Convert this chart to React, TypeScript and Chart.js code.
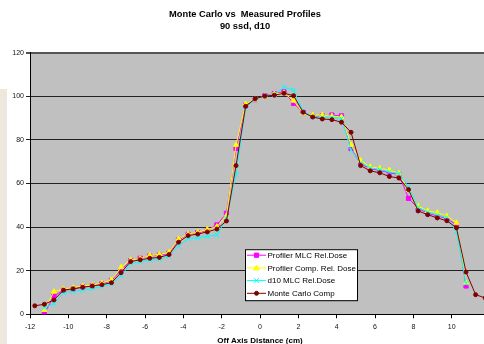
import React, { useEffect, useRef } from 'react';
import { Chart, registerables } from 'chart.js';

Chart.register(...registerables);

const chartTitle = ['Monte Carlo vs  Measured Profiles', '90 ssd, d10'];
const xAxisTitle = 'Off Axis Distance (cm)';
const seriesLabels = ['Profiler MLC Rel.Dose', 'Profiler Comp. Rel. Dose', 'd10 MLC Rel.Dose', 'Monte Carlo Comp'];

const mcPositions = [-11.75, -11.25, -10.75, -10.25, -9.75, -9.25, -8.75, -8.25, -7.75, -7.25, -6.75, -6.25, -5.75, -5.25, -4.75, -4.25, -3.75, -3.25, -2.75, -2.25, -1.75, -1.25, -0.75, -0.25, 0.25, 0.75, 1.25, 1.75, 2.25, 2.75, 3.25, 3.75, 4.25, 4.75, 5.25, 5.75, 6.25, 6.75, 7.25, 7.75, 8.25, 8.75, 9.25, 9.75, 10.25, 10.75, 11.25, 11.75];
const mcDose = [3.9, 4.6, 6.6, 11.1, 11.7, 12.4, 13.0, 13.6, 14.5, 19.1, 24.2, 25.0, 25.7, 26.1, 27.4, 33.1, 36.1, 36.8, 37.8, 39.1, 42.8, 68.2, 95.4, 98.9, 100.1, 100.5, 101.4, 100.3, 92.7, 90.5, 89.6, 89.3, 88.1, 83.5, 68.2, 65.8, 64.9, 63.2, 62.5, 57.2, 47.4, 45.7, 44.2, 42.9, 39.7, 19.4, 9.0, 7.5];

const measuredPositions = [-11.25, -10.75, -10.25, -9.75, -9.25, -8.75, -8.25, -7.75, -7.25, -6.75, -6.25, -5.75, -5.25, -4.75, -4.25, -3.75, -3.25, -2.75, -2.25, -1.75, -1.25, -0.75, -0.25, 0.25, 0.75, 1.25, 1.75, 2.25, 2.75, 3.25, 3.75, 4.25, 4.75, 5.25, 5.75, 6.25, 6.75, 7.25, 7.75, 8.25, 8.75, 9.25, 9.75, 10.25, 10.75];
const mlcDose = [0.3, 8.5, 11.0, 11.6, 12.6, 13.0, 14.0, 15.5, 20.3, 24.6, 25.7, 26.7, 27.1, 28.0, 34.1, 36.7, 37.4, 38.5, 41.0, 46.3, 76.1, 96.0, 98.5, 100.3, 101.2, 102.1, 96.8, 92.6, 90.8, 91.0, 91.4, 91.0, 76.1, 69.0, 66.8, 66.0, 65.0, 64.0, 53.2, 48.6, 46.3, 45.2, 43.9, 41.0, 13.0];
const compDose = [2.0, 10.4, 11.6, 12.2, 13.0, 13.4, 14.3, 15.8, 21.6, 24.9, 25.5, 27.0, 27.4, 28.4, 34.5, 36.8, 37.6, 38.9, 40.2, 45.2, 77.7, 96.5, 98.5, 100.0, 101.0, 101.6, 98.0, 92.4, 91.4, 91.4, 90.9, 90.5, 77.7, 70.5, 67.7, 67.0, 66.2, 64.7, 57.0, 49.7, 47.5, 46.6, 45.1, 42.0, 14.5];
const d10Dose = [3.0, 5.0, 9.9, 10.5, 11.1, 11.9, 12.8, 14.0, 17.6, 23.4, 24.1, 24.9, 25.2, 26.7, 31.2, 34.7, 35.0, 35.7, 36.4, 44.0, 64.2, 95.0, 98.6, 100.2, 100.8, 104.1, 102.9, 93.2, 90.6, 90.3, 90.4, 89.8, 75.4, 69.5, 67.2, 66.4, 65.3, 64.6, 58.5, 49.0, 46.9, 45.5, 44.4, 38.0, 14.2];

const FONT = "'Liberation Sans', Arial, sans-serif";

const toPoints = (xs: number[], ys: number[]) => xs.map((x, i) => ({ x, y: ys[i] }));

function drawMarker(ctx: CanvasRenderingContext2D, style: string, x: number, y: number, r: number, fill: string, stroke: string) {
  ctx.save();
  ctx.fillStyle = fill;
  ctx.strokeStyle = stroke;
  ctx.lineWidth = 1;
  ctx.beginPath();
  if (style === 'rect') {
    const s = r * Math.SQRT1_2;
    ctx.rect(x - s, y - s, 2 * s, 2 * s);
    ctx.fill();
    ctx.stroke();
  } else if (style === 'triangle') {
    const h = r * 1.5;
    ctx.moveTo(x - r * 0.866 * 1.15, y + h / 2.2);
    ctx.lineTo(x, y - h / 1.6);
    ctx.lineTo(x + r * 0.866 * 1.15, y + h / 2.2);
    ctx.closePath();
    ctx.fill();
    ctx.stroke();
  } else if (style === 'crossRot') {
    const d = r * Math.SQRT1_2;
    ctx.moveTo(x - d, y - d);
    ctx.lineTo(x + d, y + d);
    ctx.moveTo(x + d, y - d);
    ctx.lineTo(x - d, y + d);
    ctx.stroke();
  } else {
    ctx.arc(x, y, r, 0, Math.PI * 2);
    ctx.fill();
    ctx.stroke();
  }
  ctx.restore();
}

const plotBackground = {
  id: 'plotBackground',
  beforeDraw(chart: any) {
    const { ctx, chartArea } = chart;
    ctx.save();
    ctx.fillStyle = '#c0c0c0';
    ctx.fillRect(chartArea.left, chartArea.top, chartArea.right - chartArea.left, chartArea.bottom - chartArea.top);
    ctx.restore();
  },
};

const boxLegend = {
  id: 'boxLegend',
  afterDraw(chart: any) {
    const { ctx, chartArea } = chart;
    const left = chartArea.left + 215;
    const top = chartArea.top + 196.5;
    const w = 112;
    const h = 51;
    ctx.save();
    ctx.fillStyle = '#ffffff';
    ctx.fillRect(left, top, w, h);
    ctx.strokeStyle = '#000000';
    ctx.lineWidth = 1;
    ctx.strokeRect(left + 0.5, top + 0.5, w, h);
    ctx.font = `8px ${FONT}`;
    ctx.textBaseline = 'middle';
    ctx.textAlign = 'left';
    chart.data.datasets.forEach((ds: any, i: number) => {
      const y = top + 6 + i * 12.7;
      ctx.strokeStyle = ds.borderColor;
      ctx.lineWidth = 1;
      ctx.beginPath();
      ctx.moveTo(left + 2, y);
      ctx.lineTo(left + 21, y);
      ctx.stroke();
      drawMarker(ctx, ds.pointStyle, left + 11.5, y, ds.pointRadius, ds.pointBackgroundColor, ds.pointBorderColor);
      ctx.fillStyle = '#000000';
      ctx.fillText(ds.label, left + 22.5, y + 0.5);
    });
    ctx.restore();
  },
};

export default function App() {
  const canvasRef = useRef<HTMLCanvasElement | null>(null);

  useEffect(() => {
    if (!canvasRef.current) return;
    const chart = new Chart(canvasRef.current, {
      type: 'line',
      data: {
        datasets: [
          {
            label: seriesLabels[0],
            data: toPoints(measuredPositions, mlcDose),
            borderColor: '#ff00ff',
            backgroundColor: '#ff00ff',
            pointBackgroundColor: '#ff00ff',
            pointBorderColor: '#ff00ff',
            pointStyle: 'rect',
            pointRadius: 3,
            borderWidth: 1,
            order: 4,
          },
          {
            label: seriesLabels[1],
            data: toPoints(measuredPositions, compDose),
            borderColor: '#ffff00',
            backgroundColor: '#ffff00',
            pointBackgroundColor: '#ffff00',
            pointBorderColor: '#ffff00',
            pointStyle: 'triangle',
            pointRadius: 3,
            borderWidth: 1,
            order: 3,
          },
          {
            label: seriesLabels[2],
            data: toPoints(measuredPositions, d10Dose),
            borderColor: '#00ffff',
            backgroundColor: '#00ffff',
            pointBackgroundColor: '#00ffff',
            pointBorderColor: '#00ffff',
            pointStyle: 'crossRot',
            pointRadius: 3.5,
            borderWidth: 1,
            order: 2,
          },
          {
            label: seriesLabels[3],
            data: toPoints(mcPositions, mcDose),
            borderColor: '#800000',
            backgroundColor: '#800000',
            pointBackgroundColor: '#800000',
            pointBorderColor: '#800000',
            pointStyle: 'circle',
            pointRadius: 2,
            borderWidth: 1,
            order: 1,
          },
        ],
      },
      options: {
        responsive: false,
        animation: false,
        layout: { padding: { left: 0, right: 95, top: 0, bottom: 0 } },
        plugins: {
          legend: { display: false },
          tooltip: { enabled: false },
          title: {
            display: true,
            text: chartTitle,
            color: '#000000',
            font: { family: FONT, size: 9.3, weight: 'bold', lineHeight: 12 / 9.3 },
            padding: { top: 8, bottom: 20.7 },
          },
        },
        elements: { line: { tension: 0 } },
        scales: {
          x: {
            type: 'linear',
            min: -12,
            max: 12,
            afterFit: (scale: any) => {
              scale.height = 29.7;
            },
            ticks: {
              stepSize: 2,
              autoSkip: false,
              maxRotation: 0,
              padding: 5,
              color: '#111111',
              font: { family: FONT, size: 7 },
            },
            grid: { drawOnChartArea: false, drawTicks: true, tickLength: 4, color: '#000000' },
            border: { color: '#000000', width: 1 },
            title: {
              display: true,
              text: xAxisTitle,
              color: '#000000',
              font: { family: FONT, size: 8, weight: 'bold', lineHeight: 0.75 },
              padding: { top: 0, bottom: 0.5 },
            },
          },
          y: {
            min: 0,
            max: 120,
            afterFit: (scale: any) => {
              scale.width = 30;
            },
            ticks: {
              stepSize: 20,
              padding: 2,
              color: '#111111',
              font: { family: FONT, size: 7 },
            },
            grid: {
              color: (c: any) => (c.tick && c.tick.value === 120 ? '#555555' : '#222222'),
              lineWidth: (c: any) => (c.tick && c.tick.value === 120 ? 2 : 1),
              drawTicks: true,
              tickLength: 4,
            },
            border: { color: '#000000', width: 1 },
          },
        },
      },
      plugins: [plotBackground, boxLegend],
    } as any);
    return () => chart.destroy();
  }, []);

  return (
    <div style={{ position: 'absolute', left: 0, top: 0, width: 484, height: 344, overflow: 'hidden', background: '#ffffff' }}>
      <div style={{ position: 'absolute', left: 0, top: 89, width: 7, height: 255, background: '#ece9dc' }} />
      <canvas ref={canvasRef} width={585} height={344} style={{ position: 'absolute', left: 0, top: 0, display: 'block' }} />
    </div>
  );
}
